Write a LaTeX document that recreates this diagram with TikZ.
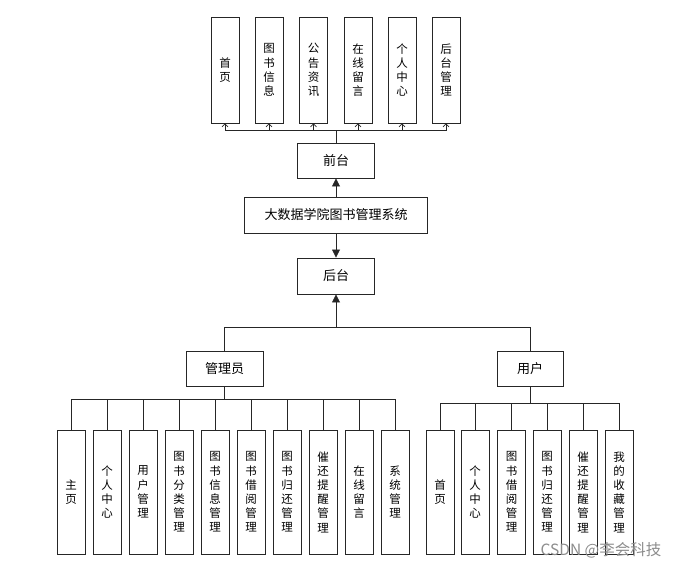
\documentclass[tikz,border=0pt]{standalone}
\usepackage{fontspec}
\newfontfamily\cjk{Noto Sans CJK SC}
\usetikzlibrary{arrows.meta}
\begin{document}
\begin{tikzpicture}[x=1pt,y=-1pt,
  line/.style={draw=black!85, line width=0.8pt},
  mainbox/.style={draw=black!85, line width=0.9pt, fill=white, minimum height=35pt, inner sep=0pt, font=\cjk\fontsize{13}{15}\selectfont},
  topbox/.style={draw=black!85, line width=0.9pt, fill=white, minimum width=28pt, minimum height=106pt, inner sep=0pt, align=center, font=\cjk\fontsize{11.5}{14.2}\selectfont},
  botbox/.style={draw=black!85, line width=0.9pt, fill=white, minimum width=28pt, minimum height=124pt, inner sep=0pt, align=center, font=\cjk\fontsize{11.5}{14.2}\selectfont},
  bigtip/.style={-{Triangle[length=8pt,width=8pt]}},
  smalltip/.style={-{Straight Barb[length=3pt,width=6pt,line width=0.6pt]}}
]
\useasboundingbox (0,0) rectangle (686,569);

% top boxes
\node[topbox] (t1) at (225,70) {首\\页};
\node[topbox] (t2) at (269,70) {图\\书\\信\\息};
\node[topbox] (t3) at (313.5,70) {公\\告\\资\\讯};
\node[topbox] (t4) at (358,70) {在\\线\\留\\言};
\node[topbox] (t5) at (402,70) {个\\人\\中\\心};
\node[topbox] (t6) at (446,70) {后\\台\\管\\理};

% main boxes
\node[mainbox, minimum width=77pt] (qt) at (336,160.5) {前台};
\node[mainbox, minimum width=183pt, minimum height=36pt] (sys) at (336,215) {大数据学院图书管理系统};
\node[mainbox, minimum width=77pt, minimum height=36pt] (ht) at (336,276) {后台};
\node[mainbox, minimum width=77pt] (adm) at (224.5,368.5) {管理员};
\node[mainbox, minimum width=66pt] (usr) at (530,368.5) {用户};

% admin boxes
\node[botbox] (a1) at (71,492) {主\\页};
\node[botbox] (a2) at (107,492) {个\\人\\中\\心};
\node[botbox] (a3) at (143,492) {用\\户\\管\\理};
\node[botbox] (a4) at (179,492) {图\\书\\分\\类\\管\\理};
\node[botbox] (a5) at (215,492) {图\\书\\信\\息\\管\\理};
\node[botbox] (a6) at (251,492) {图\\书\\借\\阅\\管\\理};
\node[botbox] (a7) at (287,492) {图\\书\\归\\还\\管\\理};
\node[botbox] (a8) at (323,492) {催\\还\\提\\醒\\管\\理};
\node[botbox] (a9) at (359,492) {在\\线\\留\\言};
\node[botbox] (a10) at (395,492) {系\\统\\管\\理};

% user boxes
\node[botbox] (u1) at (440,492) {首\\页};
\node[botbox] (u2) at (475,492) {个\\人\\中\\心};
\node[botbox] (u3) at (511.5,492) {图\\书\\借\\阅\\管\\理};
\node[botbox] (u4) at (547,492) {图\\书\\归\\还\\管\\理};
\node[botbox] (u5) at (583,492) {催\\还\\提\\醒\\管\\理};
\node[botbox] (u6) at (619,492) {我\\的\\收\\藏\\管\\理};

% top connectors
\coordinate (tj) at (336,130);
\draw[line] (qt.north) -- (tj);
\foreach \n in {t1,t2,t3,t4,t5,t6}
  \draw[line, smalltip] (tj) -| (\n.south);

% centre arrows
\draw[line, bigtip] (sys.north) -- (qt.south);
\draw[line, bigtip] (sys.south) -- (ht.north);
\coordinate (hj) at (336,327);
\draw[line, bigtip] (hj) -- (ht.south);
\draw[line] (hj) -| (adm.north);
\draw[line] (hj) -| (usr.north);

% admin connectors
\coordinate (aj) at (224.5,399);
\draw[line] (adm.south) -- (aj);
\foreach \n in {a1,a2,a3,a4,a5,a6,a7,a8,a9,a10}
  \draw[line] (aj) -| (\n.north);

% user connectors
\coordinate (uj) at (530,403);
\draw[line] (usr.south) -- (uj);
\foreach \n in {u1,u2,u3,u4,u5,u6}
  \draw[line] (uj) -| (\n.north);

% watermark
\node[text=black!45, font=\cjk\fontsize{15.5}{17}\selectfont, inner sep=0pt] (wm) at (601,550) {CSDN @李会科技};
\end{tikzpicture}
\end{document}
